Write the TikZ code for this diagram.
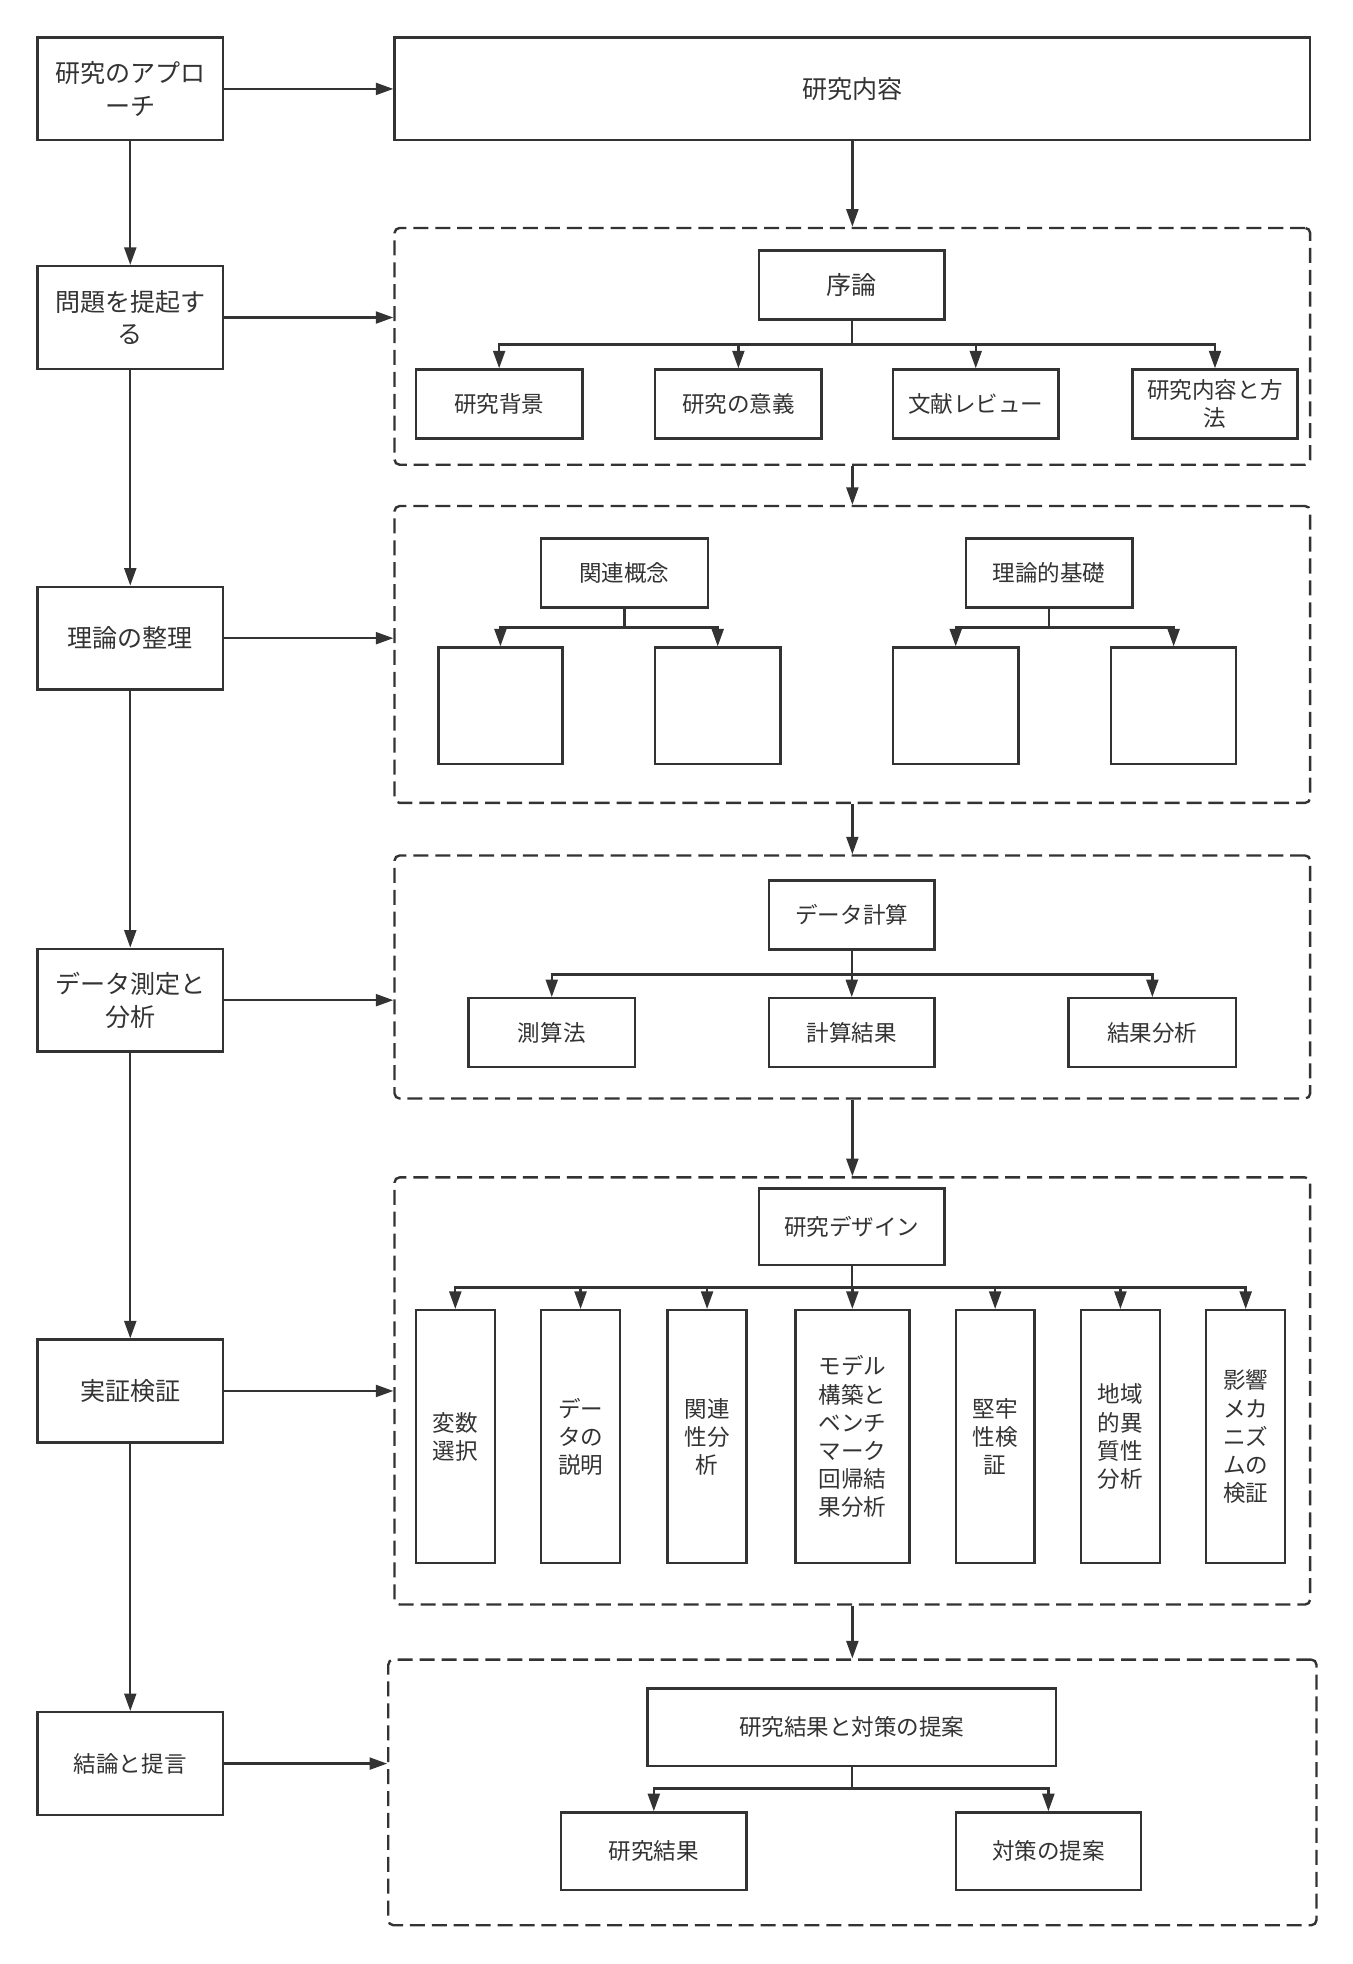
\documentclass[tikz,border=0pt]{standalone}
\usepackage{fontspec}
\setmainfont{Noto Sans CJK JP}
\usetikzlibrary{arrows.meta,calc}
\definecolor{ink}{HTML}{333333}
\begin{document}
\begin{tikzpicture}[x=1pt,y=-1pt,
  every node/.style={text=ink},
  box/.style={draw=ink,line width=1.9pt,fill=white,align=center,inner sep=0pt},
  big/.style={font=\fontsize{20}{26}\selectfont},
  small/.style={font=\fontsize{18}{22.5}\selectfont},
  grp/.style={draw=ink,line width=1.9pt,dash pattern=on 12pt off 5.5pt,rounded corners=4pt,inner sep=0pt},
  arr/.style={draw=ink,line width=1.9pt,-{Triangle[length=14pt,width=9.5pt]}},
]
\useasboundingbox[fill=white] (0,0) rectangle (1080,1568);

% left column
\node[box,big,minimum width=148pt,minimum height=82pt] (b1) at (104,71) {研究のアプロ\\ーチ};
\node[box,big,minimum width=148pt,minimum height=82pt] (b2) at (104,253.5) {問題を提起す\\る};
\node[box,big,minimum width=148pt,minimum height=82pt] (b3) at (104,509.5) {理論の整理};
\node[box,big,minimum width=148pt,minimum height=82pt] (b4) at (104,798.5) {データ測定と\\分析};
\node[box,big,minimum width=148pt,minimum height=82pt] (b5) at (104,1110.5) {実証検証};
\node[box,small,minimum width=148pt,minimum height=82pt] (b6) at (104,1408) {結論と提言};

% top box
\node[box,big,minimum width=731pt,minimum height=82pt] (top) at (680.5,71) {研究内容};

% groups
\node[grp,minimum width=731pt,minimum height=189pt] (g1) at (680.5,276.5) {};
\node[grp,minimum width=731pt,minimum height=237pt] (g2) at (680.5,522.5) {};
\node[grp,minimum width=731pt,minimum height=194pt] (g3) at (680.5,780) {};
\node[grp,minimum width=731pt,minimum height=341pt] (g4) at (680.5,1110.5) {};
\node[grp,minimum width=741pt,minimum height=212pt] (g5) at (680.5,1431) {};

% group 1
\node[box,big,minimum width=148pt,minimum height=55pt] (x1) at (680,227.5) {序論};
\node[box,small,minimum width=133pt,minimum height=55pt] (x1a) at (398.5,322.5) {研究背景};
\node[box,small,minimum width=133pt,minimum height=55pt] (x1b) at (589.5,322.5) {研究の意義};
\node[box,small,minimum width=132pt,minimum height=55pt] (x1c) at (779,322.5) {文献レビュー};
\node[box,small,minimum width=132pt,minimum height=55pt] (x1d) at (970,322.5) {研究内容と方\\法};
\coordinate (j1) at (680,275);

% group 2
\node[box,small,minimum width=133pt,minimum height=55pt] (x2l) at (498.5,457.5) {関連概念};
\node[box,small,minimum width=133pt,minimum height=55pt] (x2r) at (837.5,457.5) {理論的基礎};
\node[box,minimum width=99pt,minimum height=93pt] (x2a) at (399.5,563.5) {};
\node[box,minimum width=100pt,minimum height=93pt] (x2b) at (573,563.5) {};
\node[box,minimum width=100pt,minimum height=93pt] (x2c) at (763,563.5) {};
\node[box,minimum width=100pt,minimum height=93pt] (x2d) at (937,563.5) {};
\coordinate (j2l) at (498.5,501);
\coordinate (j2r) at (837.5,501);

% group 3
\node[box,small,minimum width=132pt,minimum height=55pt] (x3) at (680,730.5) {データ計算};
\node[box,small,minimum width=133pt,minimum height=55pt] (x3a) at (440.5,824.5) {測算法};
\node[box,small,minimum width=132pt,minimum height=55pt] (x3b) at (680,824.5) {計算結果};
\node[box,small,minimum width=134pt,minimum height=55pt] (x3c) at (920,824.5) {結果分析};
\coordinate (j3) at (680,778);

% group 4
\node[box,small,minimum width=148pt,minimum height=61pt] (x4) at (680,979.5) {研究デザイン};
\node[box,small,minimum width=63pt,minimum height=202pt] (x4a) at (363.5,1147) {変数\\選択};
\node[box,small,minimum width=63pt,minimum height=202pt] (x4b) at (463.5,1147) {デー\\タの\\説明};
\node[box,small,minimum width=63pt,minimum height=202pt] (x4c) at (564.5,1147) {関連\\性分\\析};
\node[box,small,minimum width=91pt,minimum height=202pt] (x4d) at (680.5,1147) {モデル\\構築と\\ベンチ\\マーク\\回帰結\\果分析};
\node[box,small,minimum width=63pt,minimum height=202pt] (x4e) at (794.5,1147) {堅牢\\性検\\証};
\node[box,small,minimum width=63pt,minimum height=202pt] (x4f) at (894.5,1147) {地域\\的異\\質性\\分析};
\node[box,small,minimum width=63pt,minimum height=202pt] (x4g) at (994.5,1147) {影響\\メカ\\ニズ\\ムの\\検証};
\coordinate (j4) at (680,1028);

% group 5
\node[box,small,minimum width=326pt,minimum height=62pt] (x5) at (680,1379) {研究結果と対策の提案};
\node[box,small,minimum width=148pt,minimum height=62pt] (x5a) at (522,1478) {研究結果};
\node[box,small,minimum width=148pt,minimum height=62pt] (x5b) at (837,1478) {対策の提案};
\coordinate (j5) at (680,1428);

% left column arrows
\draw[arr] (b1) -- (b2);
\draw[arr] (b2) -- (b3);
\draw[arr] (b3) -- (b4);
\draw[arr] (b4) -- (b5);
\draw[arr] (b5) -- (b6);

% left to right arrows
\draw[arr] (b1.east) -- (top.west);
\draw[arr] (b2.east) -- (b2.east -| g1.west);
\draw[arr] (b3.east) -- (b3.east -| g2.west);
\draw[arr] (b4.east) -- (b4.east -| g3.west);
\draw[arr] (b5.east) -- (b5.east -| g4.west);
\draw[arr] (b6.east) -- (b6.east -| g5.west);

% right column arrows
\draw[arr] (top.south) -- (g1.north);
\draw[arr] (g1.south) -- (g2.north);
\draw[arr] (g2.south) -- (g3.north);
\draw[arr] (g3.south) -- (g4.north);
\draw[arr] (g4.south) -- (g5.north);

% trees
\foreach \c in {x1a,x1b,x1c,x1d} \draw[arr] (x1.south) -- (j1) -| (\c.north);
\foreach \c in {x2a,x2b} \draw[arr] (x2l.south) -- (j2l) -| (\c.north);
\foreach \c in {x2c,x2d} \draw[arr] (x2r.south) -- (j2r) -| (\c.north);
\foreach \c in {x3a,x3b,x3c} \draw[arr] (x3.south) -- (j3) -| (\c.north);
\foreach \c in {x4a,x4b,x4c,x4d,x4e,x4f,x4g} \draw[arr] (x4.south) -- (j4) -| (\c.north);
\foreach \c in {x5a,x5b} \draw[arr] (x5.south) -- (j5) -| (\c.north);
\end{tikzpicture}
\end{document}
